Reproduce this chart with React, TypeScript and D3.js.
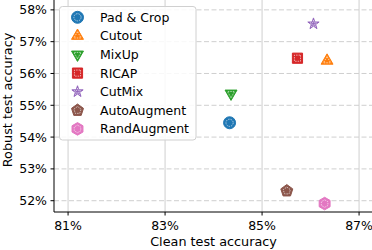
import React from 'react';
import * as d3 from 'd3';

const width = 372;
const height = 250;
const margin = { top: 0, right: 0, bottom: 38, left: 54 };

const methods = ['Pad & Crop', 'Cutout', 'MixUp', 'RICAP', 'CutMix', 'AutoAugment', 'RandAugment'];
const cleanAcc = [84.33, 86.34, 84.36, 85.73, 86.06, 85.51, 86.29];
const robustAcc = [54.45, 56.4, 55.37, 56.48, 57.56, 52.31, 51.91];
const colors = ['#1f77b4', '#ff7f0e', '#2ca02c', '#d62728', '#9467bd', '#8c564b', '#e377c2'];
const shapes = ['circle', 'triUp', 'triDown', 'square', 'star', 'pentagon', 'hexagon'];
const xTicks = [81, 83, 85, 87];
const yTicks = [52, 53, 54, 55, 56, 57, 58];

const font = 'DejaVu Sans, sans-serif';

// regular polygon path centred on 0,0
function polygon(n: number, r: number, rot: number) {
  const pts: [number, number][] = d3.range(n).map(i => {
    const a = rot + (i * 2 * Math.PI) / n;
    return [r * Math.sin(a), -r * Math.cos(a)];
  });
  return d3.line()(pts) + 'Z';
}

function markerPath(shape: string, s: number) {
  switch (shape) {
    case 'circle': return d3.symbol(d3.symbolCircle, Math.PI * s * s)();
    case 'triUp': return polygon(3, s * 1.15, 0);
    case 'triDown': return polygon(3, s * 1.15, Math.PI);
    case 'square': return polygon(4, s * 1.2, Math.PI / 4);
    case 'star': return d3.symbol(d3.symbolStar, s * s * 1.1)();
    case 'pentagon': return polygon(5, s * 1.05, 0);
    case 'hexagon': return polygon(6, s * 1.05, 0);
  }
  return '';
}

function Marker({ shape, color, x, y }: { shape: string; color: string; x: number; y: number }) {
  const s = 6;
  return (
    <g transform={`translate(${x},${y})`}>
      <path d={markerPath(shape, s)} fill={color} stroke={color} strokeWidth={1} />
      <path d={markerPath(shape, s * 0.6)} fill="none" stroke="#fff" strokeOpacity={0.75} strokeWidth={0.8} strokeDasharray="1.5,1" />
    </g>
  );
}

export default function App() {
  const xScale = d3.scaleLinear()
    .domain([80.71, 87.3])
    .range([margin.left, margin.left + (87.3 - 80.71) * 48.5]);
  const yScale = d3.scaleLinear()
    .domain([51.645, 58.31])
    .range([height - margin.bottom, margin.top]);

  const x0 = margin.left;
  const yBottom = height - margin.bottom;

  return (
    <svg width={width} height={height} style={{ position: 'absolute', left: 0, top: 0 }} fontFamily={font}>
      {/* grid */}
      {xTicks.map(t => (
        <line key={'gx' + t} x1={xScale(t)} x2={xScale(t)} y1={0} y2={yBottom} stroke="#cfcfcf" strokeWidth={1} />
      ))}
      {yTicks.map(t => (
        <line key={'gy' + t} x1={x0} x2={width} y1={yScale(t)} y2={yScale(t)} stroke="#cfcfcf" strokeWidth={1} strokeDasharray="5,2.5" />
      ))}

      {/* points */}
      {methods.map((m, i) => (
        <Marker key={m} shape={shapes[i]} color={colors[i]} x={xScale(cleanAcc[i])} y={yScale(robustAcc[i])} />
      ))}

      {/* axes */}
      <line x1={x0} x2={x0} y1={0} y2={yBottom} stroke="#000" strokeWidth={1} />
      <line x1={x0} x2={width} y1={yBottom} y2={yBottom} stroke="#000" strokeWidth={1} />
      {xTicks.map(t => (
        <g key={'xt' + t}>
          <line x1={xScale(t)} x2={xScale(t)} y1={yBottom} y2={yBottom + 3.5} stroke="#000" />
          <text x={xScale(t)} y={yBottom + 17.5} fontSize={12.5} textAnchor="middle">{t + '%'}</text>
        </g>
      ))}
      {yTicks.map(t => (
        <g key={'yt' + t}>
          <line x1={x0 - 3.5} x2={x0} y1={yScale(t)} y2={yScale(t)} stroke="#000" />
          <text x={x0 - 7} y={yScale(t)} dy="0.36em" fontSize={12.5} textAnchor="end">{t + '%'}</text>
        </g>
      ))}
      <text x={xScale(84)} y={246} fontSize={12.8} textAnchor="middle">Clean test accuracy</text>
      <text transform={`translate(12,100) rotate(-90)`} fontSize={12.8} textAnchor="middle">Robust test accuracy</text>

      {/* legend */}
      <rect x={59.5} y={6.5} width={136.5} height={133.5} rx={3} fill="#fff" fillOpacity={0.85} stroke="#d0d0d0" />
      {methods.map((m, i) => {
        const ly = 17.3 + i * 18.6;
        return (
          <g key={'lg' + m}>
            <Marker shape={shapes[i]} color={colors[i]} x={77.5} y={ly} />
            <text x={100} y={ly} dy="0.36em" fontSize={12.5}>{m}</text>
          </g>
        );
      })}
    </svg>
  );
}
